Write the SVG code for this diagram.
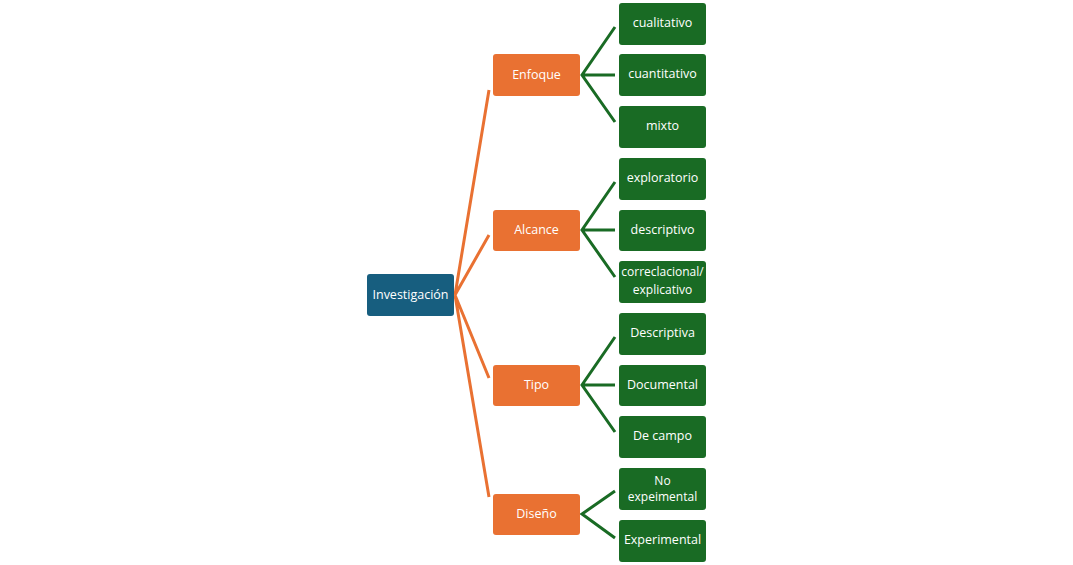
<svg xmlns="http://www.w3.org/2000/svg" width="1073" height="565" viewBox="0 0 1073 565">
<style>
.root{fill:#175E7F}
.l1{fill:#E97132}
.l2{fill:#196B24}
text{font-family:"Open Sans","Liberation Sans",sans-serif;font-size:12.5px;fill:#fff;text-anchor:middle;dominant-baseline:central}
.sm{font-size:12px}
.co{stroke:#E97132;stroke-width:3;fill:none}
.cg{stroke:#196B24;stroke-width:3;fill:none}
</style>
<g id="connectors">
<path class="co" d="M455 295L489 90M455 295L489 235M455 295L489 378M455 295L489 497"/>
<path class="cg" d="M615 27L582 75L615 122M582 75H615"/>
<path class="cg" d="M615 182L582 230L615 277M582 230H615"/>
<path class="cg" d="M615 337L582 385L615 432M582 385H615"/>
<path class="cg" d="M615 491L582 514L615 538"/>
</g>
<g id="n-investigacion"><rect class="root" x="367" y="274" width="87" height="42" rx="3"/><text x="410.5" y="294">Investigación</text></g>
<g id="n-enfoque"><rect class="l1" x="493" y="54" width="87" height="42" rx="3"/><text x="536.5" y="74">Enfoque</text></g>
<g id="n-alcance"><rect class="l1" x="493" y="210" width="87" height="41" rx="3"/><text x="536.5" y="229">Alcance</text></g>
<g id="n-tipo"><rect class="l1" x="493" y="365" width="87" height="41" rx="3"/><text x="536.5" y="384">Tipo</text></g>
<g id="n-diseno"><rect class="l1" x="493" y="494" width="87" height="41" rx="3"/><text x="536.5" y="513">Diseño</text></g>
<g id="n-cualitativo"><rect class="l2" x="619" y="3" width="87" height="42" rx="3"/><text x="662.5" y="22">cualitativo</text></g>
<g id="n-cuantitativo"><rect class="l2" x="619" y="54" width="87" height="42" rx="3"/><text x="662.5" y="73">cuantitativo</text></g>
<g id="n-mixto"><rect class="l2" x="619" y="106" width="87" height="42" rx="3"/><text x="662.5" y="125">mixto</text></g>
<g id="n-exploratorio"><rect class="l2" x="619" y="158" width="87" height="42" rx="3"/><text x="662.5" y="177">exploratorio</text></g>
<g id="n-descriptivo"><rect class="l2" x="619" y="210" width="87" height="41" rx="3"/><text x="662.5" y="229">descriptivo</text></g>
<g id="n-correlacional"><rect class="l2" x="619" y="261" width="87" height="42" rx="3"/><text class="sm" x="662.5" y="271">correclacional/</text><text class="sm" x="662.5" y="289">explicativo</text></g>
<g id="n-descriptiva"><rect class="l2" x="619" y="313" width="87" height="42" rx="3"/><text x="662.5" y="332">Descriptiva</text></g>
<g id="n-documental"><rect class="l2" x="619" y="365" width="87" height="41" rx="3"/><text x="662.5" y="384">Documental</text></g>
<g id="n-decampo"><rect class="l2" x="619" y="416" width="87" height="42" rx="3"/><text x="662.5" y="435">De campo</text></g>
<g id="n-noexp"><rect class="l2" x="619" y="468" width="87" height="42" rx="3"/><text class="sm" x="662.5" y="480">No</text><text class="sm" x="662.5" y="496">expeimental</text></g>
<g id="n-exp"><rect class="l2" x="619" y="520" width="87" height="42" rx="3"/><text x="662.5" y="539">Experimental</text></g>
</svg>
